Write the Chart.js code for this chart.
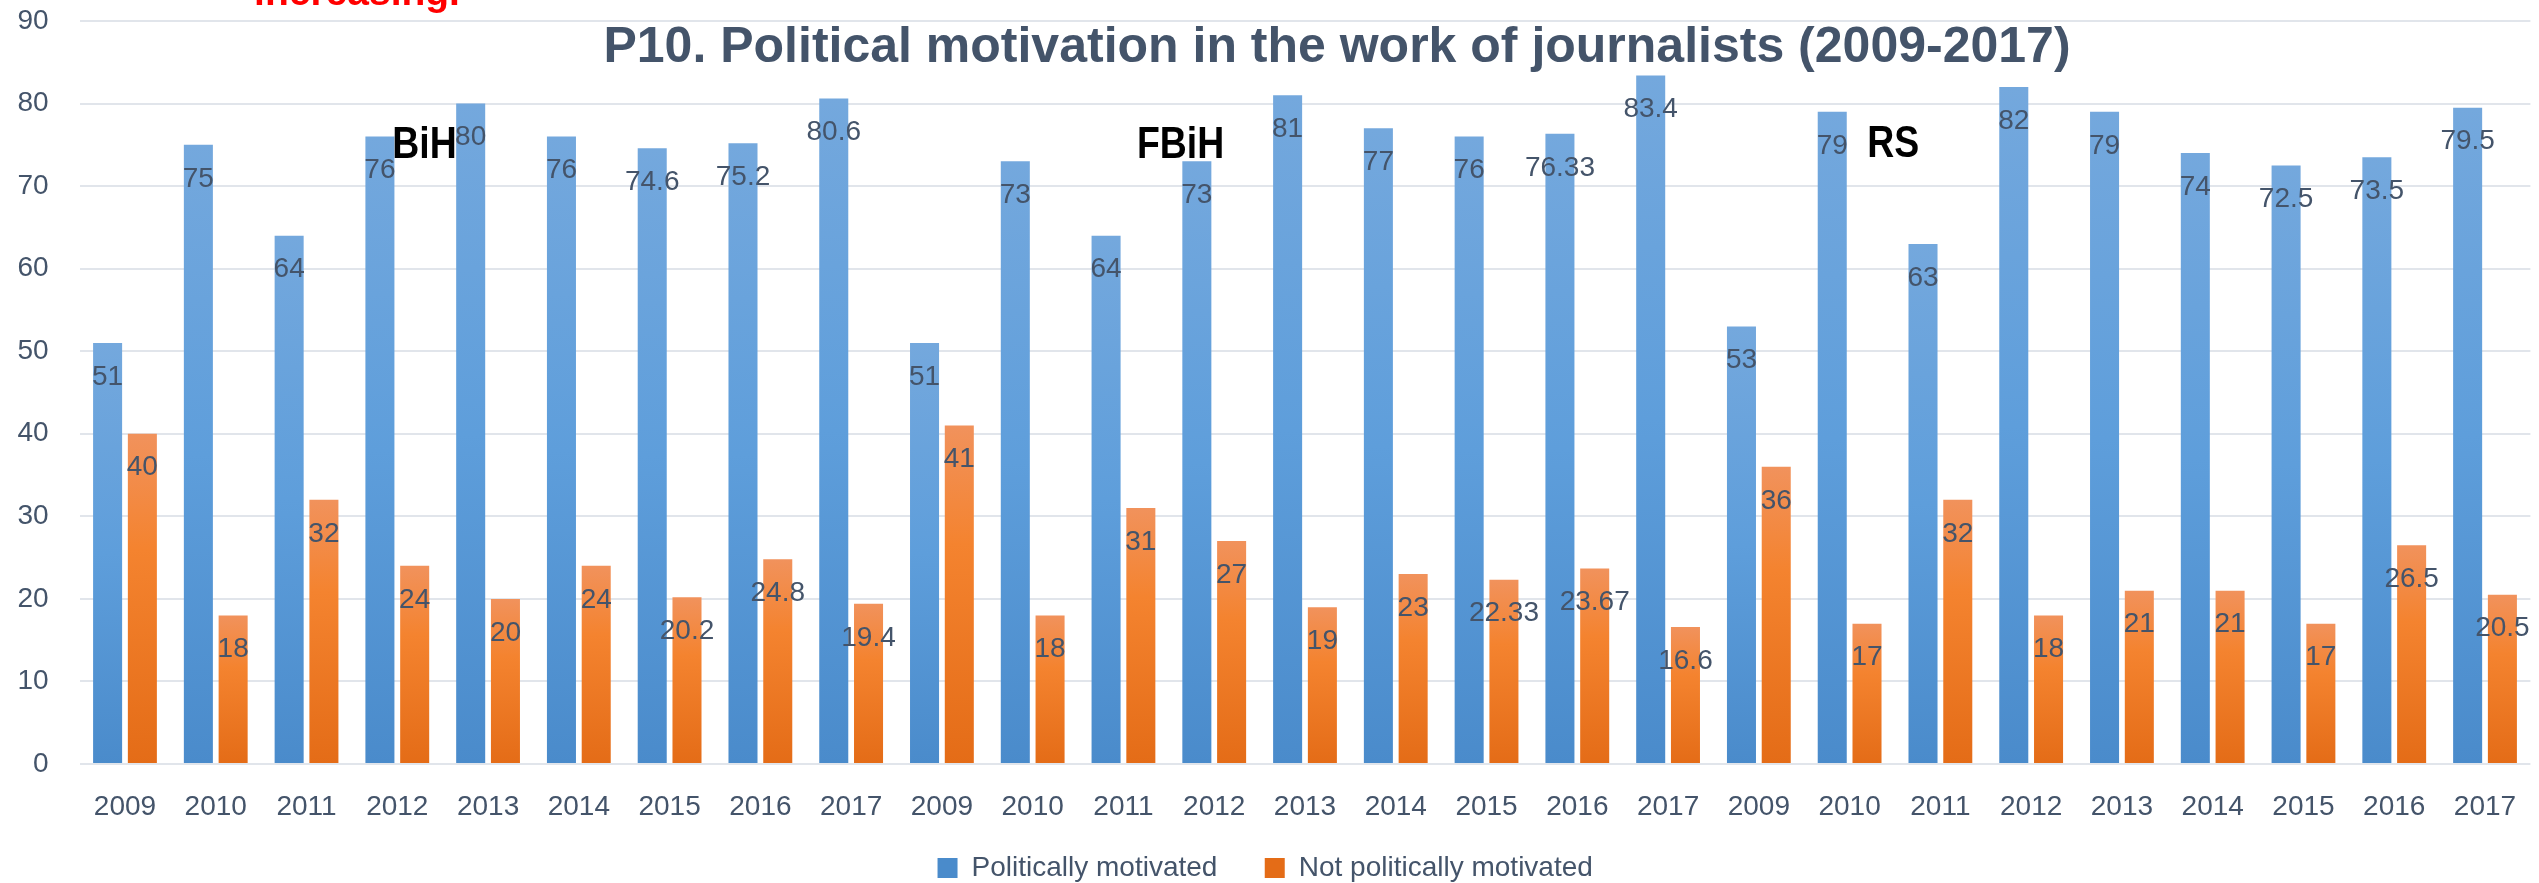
<!DOCTYPE html>
<html>
<head>
<meta charset="utf-8">
<script src="https://cdn.jsdelivr.net/npm/chart.js@4.4.1/dist/chart.umd.min.js"></script>
<style>
html,body{margin:0;padding:0;background:#ffffff;overflow:hidden}
#wrap{position:relative;width:2539px;height:883px}
</style>
</head>
<body>
<div id="wrap"><canvas id="c" width="2539" height="883"></canvas></div>
<script>
// ---------- data ----------
const years = ['2009','2010','2011','2012','2013','2014','2015','2016','2017'];
const categories = [...years, ...years, ...years]; // BiH | FBiH | RS
const seriesNames = ['Politically motivated', 'Not politically motivated'];
const politicallyMotivated = [
  51, 75, 64, 76, 80, 76, 74.6, 75.2, 80.6,        // BiH
  51, 73, 64, 73, 81, 77, 76, 76.33, 83.4,         // FBiH
  53, 79, 63, 82, 79, 74, 72.5, 73.5, 79.5         // RS
];
const notPoliticallyMotivated = [
  40, 18, 32, 24, 20, 24, 20.2, 24.8, 19.4,        // BiH
  41, 18, 31, 27, 19, 23, 22.33, 23.67, 16.6,      // FBiH
  36, 17, 32, 18, 21, 21, 17, 26.5, 20.5           // RS
];
const yMin = 0, yMax = 90, yStep = 10;
const chartTitle = 'P10. Political motivation in the work of journalists (2009-2017)';
const noteText = 'increasing.';
const regionNames = ['BiH', 'FBiH', 'RS'];

// ---------- styling / placement (not data) ----------
const TEXT = '#44546A';
const FONT = '"Liberation Sans", Arial, sans-serif';
const regionLabelPlace = [ {index: 3.30, value: 73.4}, {index: 11.63, value: 73.4}, {index: 19.48, value: 73.5} ];

function barGradient(stops, solid) {
  return (ctx) => {
    if (ctx.type !== 'data') return solid;
    const chart = ctx.chart;
    const y = chart.scales && chart.scales.y;
    if (!y) return solid;
    const top = y.getPixelForValue(ctx.raw);
    const bottom = y.getPixelForValue(0);
    if (!isFinite(top) || !isFinite(bottom) || Math.abs(bottom - top) < 1) return solid;
    const g = chart.ctx.createLinearGradient(0, top, 0, bottom);
    stops.forEach(([o, c]) => g.addColorStop(o, c));
    return g;
  };
}

const valueLabels = {
  id: 'valueLabels',
  afterDatasetsDraw(chart) {
    const c = chart.ctx;
    c.save();
    c.font = '28px ' + FONT;
    c.fillStyle = TEXT;
    c.textAlign = 'center';
    c.textBaseline = 'middle';
    chart.data.datasets.forEach((ds, di) => {
      const meta = chart.getDatasetMeta(di);
      meta.data.forEach((el, i) => {
        c.fillText(String(ds.data[i]), el.x, el.y + 34);
      });
    });
    c.restore();
  }
};

const overlayText = {
  id: 'overlayText',
  afterDraw(chart) {
    const c = chart.ctx;
    const xs = chart.scales.x, ys = chart.scales.y;
    c.save();
    // red note, mostly cut off at the top
    c.font = 'bold 39px ' + FONT;
    c.fillStyle = '#FF0000';
    c.textAlign = 'center';
    c.textBaseline = 'alphabetic';
    c.fillText(noteText, 357, 5);
    // title
    c.font = 'bold 50px ' + FONT;
    c.fillStyle = TEXT;
    c.fillText(chartTitle, 1337, 62);
    // region labels
    c.font = 'bold 44px ' + FONT;
    c.fillStyle = '#000000';
    regionNames.forEach((name, i) => {
      const p = regionLabelPlace[i];
      const px = xs.getPixelForValue(p.index);
      const py = ys.getPixelForValue(p.value);
      c.save();
      c.translate(px, py);
      c.scale(0.85, 1);
      c.fillText(name, 0, 0);
      c.restore();
    });
    c.restore();
  }
};

new Chart(document.getElementById('c'), {
  type: 'bar',
  data: {
    labels: categories,
    datasets: [
      {
        label: seriesNames[0],
        data: politicallyMotivated,
        backgroundColor: barGradient([[0, '#74A8DD'], [0.5, '#5E9EDB'], [1, '#4A8BCB']], '#5B9BD5'),
        borderWidth: 0,
        categoryPercentage: 0.766,
        barPercentage: 0.835
      },
      {
        label: seriesNames[1],
        data: notPoliticallyMotivated,
        backgroundColor: barGradient([[0, '#F1925C'], [0.35, '#F4832F'], [1, '#E46C17']], '#ED7D31'),
        borderWidth: 0,
        categoryPercentage: 0.766,
        barPercentage: 0.835
      }
    ]
  },
  options: {
    responsive: false,
    devicePixelRatio: 1,
    animation: false,
    layout: { padding: { top: 21, right: 8.6, bottom: -9, left: 0 } },
    scales: {
      x: {
        grid: { display: false, drawTicks: false },
        border: { display: false },
        ticks: { color: TEXT, font: { family: FONT, size: 28 }, padding: 26, maxRotation: 0, autoSkip: false },
        afterFit(scale) { scale.height = 66; scale.paddingLeft = 0; scale.paddingRight = 0; }
      },
      y: {
        min: yMin, max: yMax,
        grid: { color: '#E1E5EB', lineWidth: 2, drawTicks: false },
        border: { display: false },
        ticks: { stepSize: yStep, color: TEXT, font: { family: FONT, size: 28 }, padding: 31 },
        afterFit(scale) { scale.width = 79.6; scale.paddingTop = 0; scale.paddingBottom = 0; }
      }
    },
    plugins: {
      title: { display: false },
      tooltip: { enabled: false },
      legend: {
        position: 'bottom',
        labels: {
          color: TEXT, font: { family: FONT, size: 28 }, boxWidth: 20, boxHeight: 20, padding: 24,
          generateLabels(chart) {
            const items = Chart.defaults.plugins.legend.labels.generateLabels(chart);
            items.forEach((it, i) => { if (i < items.length - 1) it.text = it.text + '   '; });
            return items;
          }
        }
      }
    }
  },
  plugins: [valueLabels, overlayText]
});
</script>
</body>
</html>
